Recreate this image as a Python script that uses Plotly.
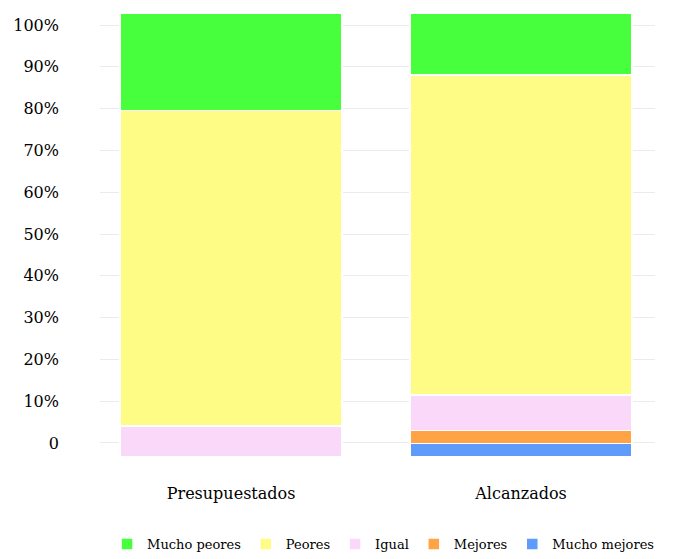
import plotly.graph_objects as go

categories = ["Presupuestados", "Alcanzados"]
series_names = ["Mucho mejores", "Mejores", "Igual", "Peores", "Mucho peores"]
mucho_mejores = [0, 3]
mejores = [0, 3]
igual = [7, 8]
peores = [71, 72]
mucho_peores = [22, 14]
colors = ["#5E9BFB", "#FFA345", "#FAD8FA", "#FEFC84", "#48FF3D"]
tick_values = [0, 10, 20, 30, 40, 50, 60, 70, 80, 90, 100]
tick_labels = ["0", "10%", "20%", "30%", "40%", "50%", "60%", "70%", "80%", "90%", "100%"]

values = [mucho_mejores, mejores, igual, peores, mucho_peores]

fig = go.Figure()
# empty trace so the percentage axis (gridlines + labels) is drawn
fig.add_trace(go.Scatter(x=[], y=[], yaxis="y", showlegend=False, hoverinfo="skip"))
for name, vals, col in zip(series_names, values, colors):
    fig.add_trace(go.Bar(
        x=categories, y=vals, name=name, yaxis="y2",
        marker=dict(color=col, line=dict(color="white", width=1.5)),
        hoverinfo="x+y+name",
    ))

font_family = "DejaVu Serif"
fig.update_layout(
    barmode="stack",
    bargap=0.234,
    width=671, height=551,
    margin=dict(l=92, r=24, t=2, b=99, autoexpand=False),
    paper_bgcolor="white", plot_bgcolor="white",
    font=dict(family=font_family, color="black"),
    xaxis=dict(range=[-0.452, 1.462], showgrid=False, showline=False, ticks="",
               type="category", categoryarray=categories,
               tickfont=dict(size=16, family=font_family), ticklabelstandoff=22),
    yaxis=dict(range=[-4.07, 103.59], tickvals=tick_values, ticktext=tick_labels,
               showgrid=True, gridcolor="#ebebeb", gridwidth=1, zeroline=False,
               showline=False, ticks="", tickfont=dict(size=16, family=font_family),
               ticklabelstandoff=40),
    yaxis2=dict(range=[-0.68, 100.68], overlaying="y", visible=False),
    legend=dict(orientation="h", xref="container", yref="container",
                x=0.559, xanchor="center", y=0.0, yanchor="bottom",
                traceorder="reversed", font=dict(size=13, family=font_family)),
    showlegend=True,
)

fig.write_html("out.html")
